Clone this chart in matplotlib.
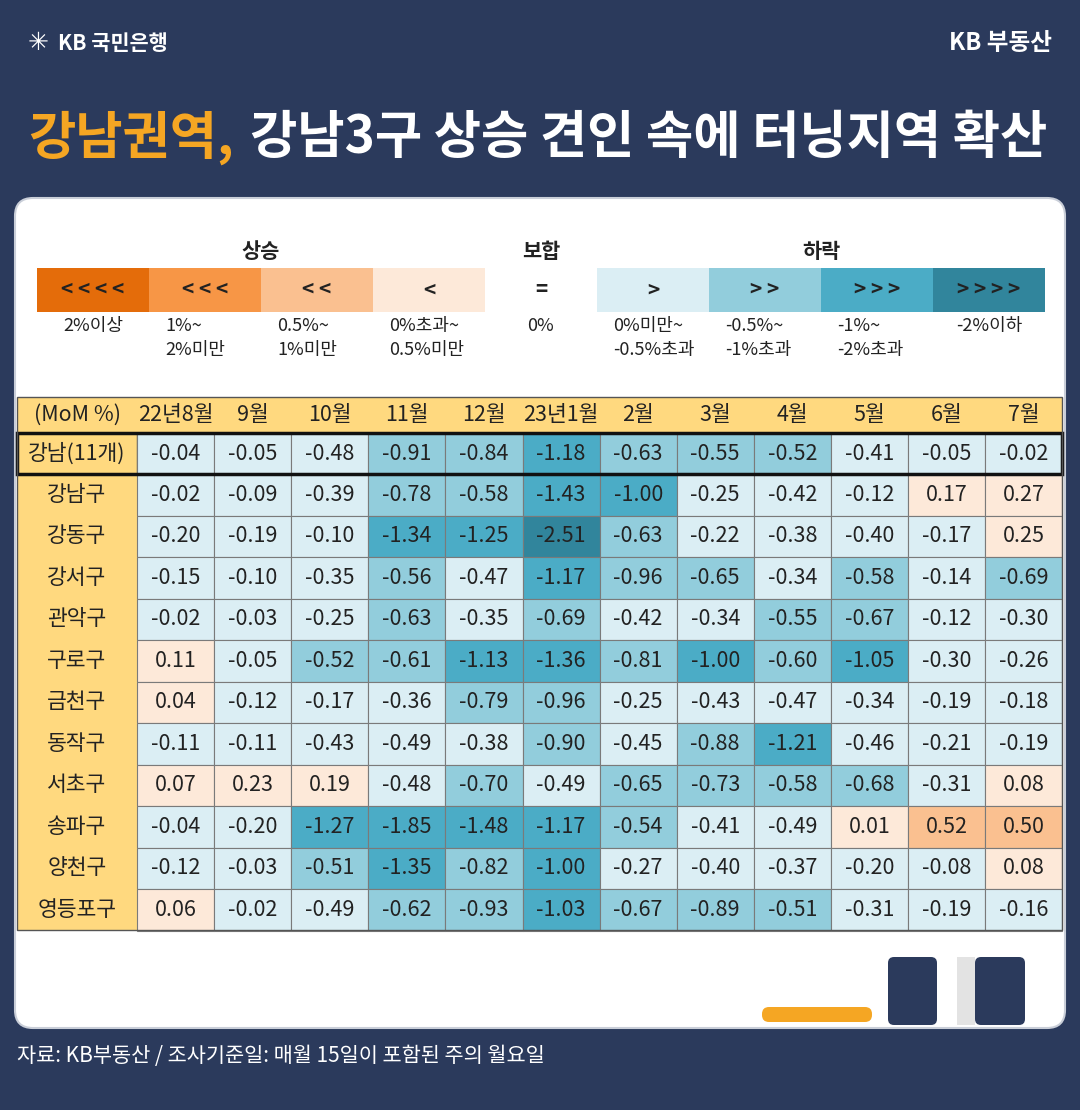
import matplotlib
matplotlib.use("Agg")
import matplotlib.pyplot as plt
from matplotlib.patches import Rectangle, FancyBboxPatch

plt.rcParams["font.family"] = ["Noto Sans CJK KR", "Noto Sans CJK JP", "Noto Sans CJK SC", "DejaVu Sans"]
plt.rcParams["axes.unicode_minus"] = False

months = ["22년8월", "9월", "10월", "11월", "12월", "23년1월", "2월", "3월", "4월", "5월", "6월", "7월"]
total_label = "강남(11개)"
total_values = [-0.04, -0.05, -0.48, -0.91, -0.84, -1.18, -0.63, -0.55, -0.52, -0.41, -0.05, -0.02]
districts = ["강남구", "강동구", "강서구", "관악구", "구로구", "금천구", "동작구", "서초구", "송파구", "양천구", "영등포구"]
values = [
    [-0.02, -0.09, -0.39, -0.78, -0.58, -1.43, -1.00, -0.25, -0.42, -0.12, 0.17, 0.27],
    [-0.20, -0.19, -0.10, -1.34, -1.25, -2.51, -0.63, -0.22, -0.38, -0.40, -0.17, 0.25],
    [-0.15, -0.10, -0.35, -0.56, -0.47, -1.17, -0.96, -0.65, -0.34, -0.58, -0.14, -0.69],
    [-0.02, -0.03, -0.25, -0.63, -0.35, -0.69, -0.42, -0.34, -0.55, -0.67, -0.12, -0.30],
    [0.11, -0.05, -0.52, -0.61, -1.13, -1.36, -0.81, -1.00, -0.60, -1.05, -0.30, -0.26],
    [0.04, -0.12, -0.17, -0.36, -0.79, -0.96, -0.25, -0.43, -0.47, -0.34, -0.19, -0.18],
    [-0.11, -0.11, -0.43, -0.49, -0.38, -0.90, -0.45, -0.88, -1.21, -0.46, -0.21, -0.19],
    [0.07, 0.23, 0.19, -0.48, -0.70, -0.49, -0.65, -0.73, -0.58, -0.68, -0.31, 0.08],
    [-0.04, -0.20, -1.27, -1.85, -1.48, -1.17, -0.54, -0.41, -0.49, 0.01, 0.52, 0.50],
    [-0.12, -0.03, -0.51, -1.35, -0.82, -1.00, -0.27, -0.40, -0.37, -0.20, -0.08, 0.08],
    [0.06, -0.02, -0.49, -0.62, -0.93, -1.03, -0.67, -0.89, -0.51, -0.31, -0.19, -0.16],
]
legend_symbols = ["<<<<", "<<<", "<<", "<", "=", ">", ">>", ">>>", ">>>>"]
legend_labels = ["2%이상", "1%~\n2%미만", "0.5%~\n1%미만", "0%초과~\n0.5%미만", "0%",
                 "0%미만~\n-0.5%초과", "-0.5%~\n-1%초과", "-1%~\n-2%초과", "-2%이하"]
legend_colors = ["#e46c0a", "#f79646", "#fac090", "#fde9d9", "#ffffff",
                 "#dbeef4", "#92cddc", "#4bacc6", "#31859c"]

def color_for(v):
    if v >= 2: return legend_colors[0]
    if v >= 1: return legend_colors[1]
    if v >= 0.5: return legend_colors[2]
    if v > 0: return legend_colors[3]
    if v == 0: return legend_colors[4]
    if v > -0.5: return legend_colors[5]
    if v > -1: return legend_colors[6]
    if v > -2: return legend_colors[7]
    return legend_colors[8]

NAVY = "#2b3a5c"
YEL = "#ffd97f"
fig = plt.figure(figsize=(10.8, 11.1), dpi=100)
fig.patch.set_facecolor(NAVY)
ax = fig.add_axes([0, 0, 1, 1])
ax.set_xlim(0, 1080); ax.set_ylim(1110, 0); ax.axis("off")

# header
ax.text(28, 43, "✳", color="white", fontsize=18, fontweight="bold", va="center", family="DejaVu Sans")
ax.text(58, 43, "KB 국민은행", color="white", fontsize=15, fontweight="bold", va="center")
ax.text(1052, 43, "KB 부동산", color="white", fontsize=17, fontweight="bold", va="center", ha="right")
t1 = ax.text(28, 138, "강남권역,", color="#f5a623", fontsize=37, fontweight="bold", va="center")
fig.canvas.draw()
inv = ax.transData.inverted()
bb = t1.get_window_extent()
x1 = inv.transform((bb.x1, bb.y0))[0] + 16
ax.text(x1, 138, "강남3구 상승 견인 속에 터닝지역 확산", color="white", fontsize=37, fontweight="bold", va="center")

# card
ax.add_patch(FancyBboxPatch((15, 198), 1050, 830, boxstyle="round,pad=0,rounding_size=18",
                            fc="white", ec="#c9ced8", lw=1.5))

# legend
lx0, lw_, ly0, lh = 37, 112, 268, 44
for k, lbl in ((2, "상승"), (4.5, "보합"), (7, "하락")):
    ax.text(lx0 + k * lw_, 252, lbl, fontsize=15, fontweight="bold", ha="center", va="center", color="#222")
for i, (s, lab, c) in enumerate(zip(legend_symbols, legend_labels, legend_colors)):
    x = lx0 + i * lw_
    ax.add_patch(Rectangle((x, ly0), lw_, lh, fc=c, ec="none"))
    ax.text(x + lw_ / 2, ly0 + lh / 2, " ".join(s), fontsize=15, fontweight="bold",
            ha="center", va="center", color="#222")
    centered = i in (0, 4, 8)
    ax.text(x + lw_ / 2 if centered else x + 16, 317, lab, fontsize=13,
            ha="center" if centered else "left", va="top", color="#222", linespacing=1.45)

# table
tx0, fcw, cw = 17, 120, 77.1
hy, hh = 397, 36
FS = 15.5
ax.add_patch(Rectangle((tx0, hy), fcw + 12 * cw, hh, fc=YEL, ec="none"))
ax.text(tx0 + fcw / 2, hy + hh / 2, "(MoM %)", fontsize=FS, ha="center", va="center", color="#222")
for j, m in enumerate(months):
    ax.text(tx0 + fcw + (j + 0.5) * cw, hy + hh / 2, m, fontsize=FS, ha="center", va="center", color="#222")
rows = [(total_label, total_values)] + list(zip(districts, values))
rh = 41.5
ystarts = [433] + [474 + k * rh for k in range(len(districts))]
for r, ((name, vals), y) in enumerate(zip(rows, ystarts)):
    h = 41 if r == 0 else rh
    ax.add_patch(Rectangle((tx0, y), fcw, h, fc=YEL, ec="#555" if r == 0 else "none", lw=1))
    ax.text(tx0 + fcw / 2, y + h / 2, name, fontsize=FS, ha="center", va="center", color="#222")
    for j, v in enumerate(vals):
        x = tx0 + fcw + j * cw
        ax.add_patch(Rectangle((x, y), cw, h, fc=color_for(v), ec="#7a7a7a", lw=0.8))
        ax.text(x + cw / 2, y + h / 2, f"{v:.2f}", fontsize=FS, ha="center", va="center", color="#222")
ax.add_patch(Rectangle((tx0, 433), fcw + 12 * cw, 41, fc="none", ec="#111", lw=2.5))
ax.add_patch(Rectangle((tx0, 397), fcw + 12 * cw, 930 - 397, fc="none", ec="#555", lw=1))

# decorations
ax.add_patch(FancyBboxPatch((762, 1007), 110, 15, boxstyle="round,pad=0,rounding_size=7", fc="#f5a623", ec="none"))
ax.add_patch(FancyBboxPatch((888, 957), 49, 68, boxstyle="round,pad=0,rounding_size=6", fc=NAVY, ec="none"))
ax.add_patch(Rectangle((957, 957), 18, 68, fc="#e3e3e3", ec="none"))
ax.add_patch(FancyBboxPatch((975, 957), 50, 68, boxstyle="round,pad=0,rounding_size=6", fc=NAVY, ec="none"))

ax.text(17, 1056, "자료: KB부동산 / 조사기준일: 매월 15일이 포함된 주의 월요일", color="white", fontsize=15, va="center")

fig.savefig("out.png", dpi=100, facecolor=NAVY)
